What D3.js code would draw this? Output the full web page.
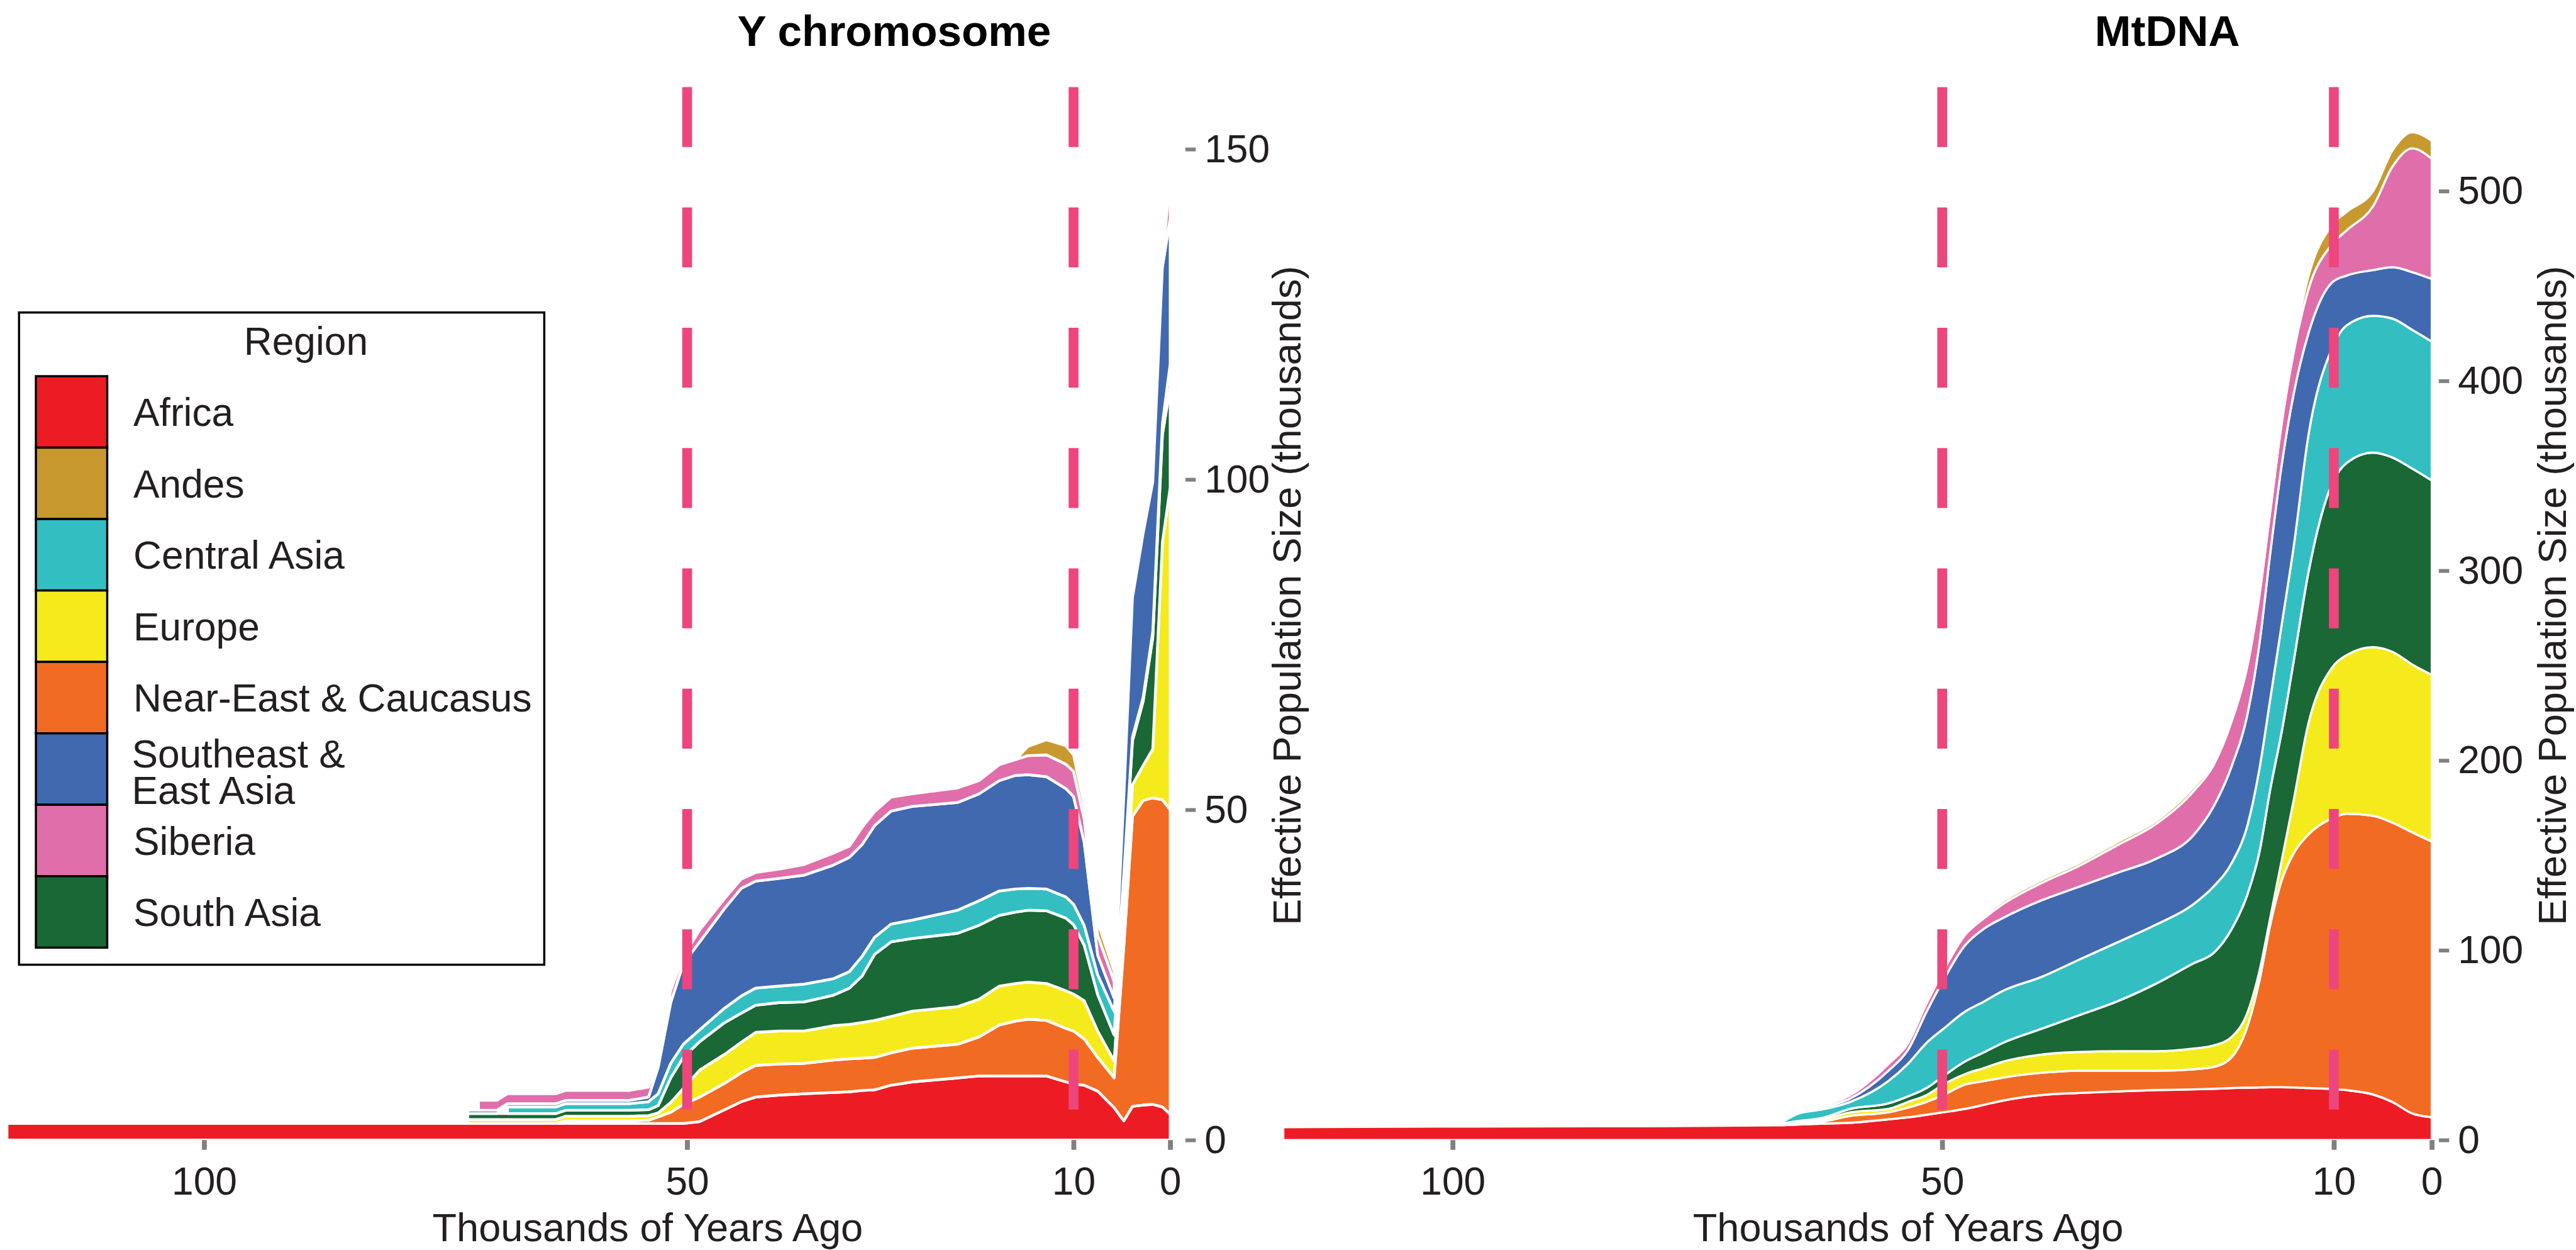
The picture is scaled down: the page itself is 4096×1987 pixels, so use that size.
<!DOCTYPE html>
<html>
<head>
<meta charset="utf-8">
<script src="https://cdn.jsdelivr.net/npm/d3@7"></script>
<style>
  body { margin: 0; background: #fff; }
  svg { display: block; }
</style>
</head>
<body>
<script>
// regions, bottom to top of the stack
var regions = ["Africa", "Near-East & Caucasus", "Europe", "South Asia",
               "Central Asia", "Southeast & East Asia", "Siberia", "Andes"];
var legendOrder = ["Africa", "Andes", "Central Asia", "Europe",
                   "Near-East & Caucasus", "Southeast & East Asia", "Siberia", "South Asia"];
var legendLines = {"Southeast & East Asia": ["Southeast &", "East Asia"]};
var colors = {
  "Africa": "#ED1C24",
  "Andes": "#C8992E",
  "Central Asia": "#33BFC1",
  "Europe": "#F5EB1C",
  "Near-East & Caucasus": "#F26B23",
  "Southeast & East Asia": "#4169B0",
  "Siberia": "#E06EAA",
  "South Asia": "#196836"
};

// Y chromosome, thousands of years ago, effective size (thousands) per region
var yTimes = [120.4, 72.7, 71.6, 69.7, 68.6, 63.6, 62.6, 56, 54, 53, 51.7, 50.4, 48.7, 46.1, 44.4,
  42.9, 40.5, 37.9, 34.9, 33.2, 31.9, 30.6, 28.9, 26.7, 22, 19.8, 17.7, 16, 14.7, 12.8, 10.8, 10,
  8.9, 7.5, 5.8, 4.8, 3.9, 2.8, 1.8, 0.8, 0];
var yAfrica = [2.5, 2.5, 2.5, 2.5, 2.5, 2.5, 2.5, 2.5, 2.5, 2.5, 2.5, 2.5, 2.8, 4.6, 5.8, 6.5, 6.8,
  7.0, 7.2, 7.3, 7.5, 7.6, 8.3, 8.8, 9.4, 9.7, 9.7, 9.7, 9.7, 9.7, 8.8, 8.5, 8.3, 7.4, 4.9, 2.9,
  5.1, 5.3, 5.4, 5.0, 3.9];
var yNearEast = [null, null, null, null, null, null, 0.4, 0.4, 0.5, 1.0, 1.7, 2.9, 3.7, 4.0, 4.4,
  4.8, 4.7, 4.6, 4.9, 5.0, 4.9, 4.9, 4.9, 5.1, 5.1, 5.9, 7.7, 8.3, 8.6, 8.4, 8.1, 8.0, 7.0, 5.1,
  4.5, 26.4, 43.9, 46.1, 46.4, 46.5, 46.1];
var yEurope = [null, 0.6, 0.6, 0.6, 0.6, 0.6, 0.7, 0.7, 0.7, 0.6, 1.5, 2.4, 4.1, 4.4, 4.6, 5.0,
  5.0, 4.9, 5.2, 5.2, 5.4, 5.6, 5.5, 5.6, 5.7, 5.7, 5.9, 5.7, 5.6, 5.6, 5.7, 5.6, 5.8, 4.0, 2.6,
  4.0, 4.8, 5.3, 7.4, 39.0, 48.8];
var ySouthAsia = [null, 0.9, 0.9, 0.9, 0.9, 0.9, 0.9, 0.9, 0.9, 1.1, 3.7, 4.7, 4.3, 4.8, 4.4, 4.1,
  4.3, 4.4, 4.6, 5.5, 7.0, 10.0, 11.3, 11.0, 11.1, 11.2, 10.7, 10.8, 10.9, 11.0, 11.0, 10.5, 8.4,
  5.5, 3.9, 6.0, 6.6, 9.7, 16.9, 16.3, 15.2];
var yCentralAsia = [null, null, null, null, 1.0, 1.0, 1.0, 1.0, 1.2, 1.8, 2.2, 2.0, 1.8, 2.2, 2.6,
  2.6, 2.5, 2.7, 2.5, 2.5, 3.0, 2.6, 2.7, 2.8, 3.5, 3.7, 3.7, 3.5, 3.3, 3.3, 3.2, 3.1, 3.0, 3.0,
  3.6, 1.0, 0.6, 0.6, 0.9, 1.7, 3.5];
var ySEAsia = [null, 0.5, 0.5, 0.5, 0.5, 0.5, 0.5, 0.5, 0.7, 4.0, 9.2, 12.2, 13.3, 15.1, 16.3,
  16.2, 16.3, 16.5, 17.2, 17.3, 16.9, 16.9, 17.1, 17.2, 16.3, 16.2, 16.7, 17.2, 17.2, 17.0, 16.4,
  16.3, 12.6, 3.0, 2.0, 11.5, 21.1, 24.8, 22.6, 23.7, 22.0];
var ySiberia = [null, null, 1.5, 1.5, 1.5, 1.5, 1.5, 1.5, 1.5, 1.0, 1.8, 1.1, 1.8, 1.5, 1.4, 1.3,
  1.4, 1.6, 1.8, 1.7, 2.6, 2.1, 2.1, 1.9, 2.2, 2.0, 2.4, 2.4, 2.9, 3.3, 3.7, 3.8, 3.5, 3.0, 2.5,
  null, null, null, null, 0, 6.9];
var yAndes = [null, null, null, null, null, null, null, null, null, null, null, null, null, null,
  null, null, null, null, null, null, null, null, null, null, null, null, null, 0, 1.4, 2.3, 2.8,
  2.5, 2.0, 2.0, 1.5, null, null, null, null, null, null];

// MtDNA
var mtTimes = [117.3, 100, 80, 66.4, 64.7, 62.4, 59.4, 55.5, 53.5, 51.6, 49.9, 47.7, 45.7, 43.8,
  39.9, 36.0, 32.1, 28.2, 24.3, 22.3, 20.4, 18.8, 17.6, 16.5, 15.3, 14.1, 12.6, 10.2, 8.7, 6.0,
  4.0, 2.0, 0];
var mtAfrica = [6.8, 7.1, 7.3, 7.8, 8.2, 8.6, 9.1, 10.9, 12.0, 13.3, 14.6, 16.4, 18.6, 20.8, 23.7,
  24.8, 25.6, 26.3, 26.7, 27.0, 27.4, 27.6, 27.7, 27.8, 27.8, 27.7, 27.4, 26.9, 26.3, 24.0, 20.0,
  14.0, 12.0];
var mtNearEast = [null, null, null, 0.3, 0.8, 1.0, 3.6, 3.7, 5.1, 6.8, 9.1, 12.8, 12.5, 12.1,
  11.7, 11.7, 10.9, 10.2, 10.6, 11.5, 16.5, 32.7, 56.4, 85.6, 109.4, 123.4, 133.6, 142.6, 145.6,
  146.8, 147.2, 148.1, 145.3];
var mtEurope = [null, null, null, 0.3, 0.5, 1.0, 1.9, 1.8, 3.0, 3.6, 5.5, 5.5, 6.9, 8.4, 9.6, 9.9,
  10.3, 10.3, 10.9, 11.3, 10.6, 7.2, 4.9, 3.6, 10.9, 28.1, 58.5, 79.3, 83.6, 88.9, 90.0, 88.5, 87.8];
var mtSouthAsia = [null, null, null, 0.3, 0.5, 0.9, 1.8, 2.9, 2.9, 3.7, 4.4, 6.6, 8.3, 9.9, 13.5,
  19.4, 26.3, 35.5, 45.0, 48.7, 57.0, 62.3, 62.8, 67.7, 67.8, 73.2, 79.5, 96.9, 101.2, 102.5,
  102.4, 103.2, 102.4];
var mtCentralAsia = [null, null, null, 0.5, 3.9, 4.5, 3.7, 11.8, 17.2, 23.8, 24.9, 26.3, 26.8,
  27.4, 27.4, 29.3, 31.1, 31.1, 31.2, 35.0, 34.8, 36.6, 43.9, 47.6, 56.6, 60.4, 72.3, 71.4, 72.5,
  72.1, 73.2, 73.1, 73.2];
var mtSEAsia = [null, null, null, null, null, 1.0, 1.8, 5.4, 7.3, 16.4, 25.6, 34.8, 38.4, 38.4,
  40.3, 38.4, 36.6, 34.7, 36.5, 42.1, 51.2, 58.6, 65.9, 76.8, 84.2, 80.5, 53.7, 34.7, 26.3, 24.1,
  27.1, 30.4, 33.0];
var mtSiberia = [null, null, null, null, null, 1.0, 1.8, 3.5, 3.5, 4.4, 4.9, 5.5, 5.5, 7.3, 9.1,
  11.0, 14.6, 18.3, 23.1, 21.9, 23.8, 25.6, 25.6, 22.0, 21.9, 21.9, 23.2, 20.1, 23.8, 33.6, 53.1,
  65.2, 63.3];
var mtAndes = [null, null, null, null, null, 0.3, 0.8, 1.0, 1.0, 1.0, 1.3, 1.6, 1.5, 1.5, 1.5,
  1.5, 1.6, 1.6, 2.0, 2.0, 2.2, 2.4, 2.8, 2.9, 2.9, 3.3, 6.8, 10.1, 9.7, 8.0, 8.5, 8.5, 9.5];

var xTicks = [100, 50, 10, 0];
var yTicksY = [0, 50, 100, 150];
var yTicksMt = [0, 100, 200, 300, 400, 500];
var boundaries = [50, 10];

// drawing is laid out in the reference's own pixel grid; the viewBox shrinks it
var W = 4733, H = 2296;
var font = "'Liberation Sans', Arial, Helvetica, sans-serif";
var ink = "#231f20";
var panelTop = 160, panelBottom = 2123;

var svg = d3.select("body").append("svg")
  .attr("width", 4096)
  .attr("height", 1987)
  .attr("viewBox", "0 0 " + W + " " + H);

function makeRows(times, series) {
  return times.map(function(t, i) {
    var row = {t: t};
    regions.forEach(function(r) { row[r] = series[r][i]; });
    return row;
  });
}

var stack = d3.stack()
  .keys(regions)
  .value(function(d, k) { return d[k] == null ? 0 : d[k]; });

var drawPanel = function(cfg) {
  var g = svg.append("g");
  var x = cfg.x, y = cfg.y;

  // stacked areas with white outlines
  stack(cfg.rows).forEach(function(layer) {
    var key = layer.key;
    var area = d3.area()
      .defined(function(d) { return d.data[key] != null; })
      .x(function(d) { return x(d.data.t); })
      .y0(function(d) { return y(d[0]); })
      .y1(function(d) { return y(d[1]); })
      .curve(cfg.curve);
    g.append("path")
      .datum(layer)
      .attr("d", area)
      .attr("fill", colors[key])
      .attr("stroke", "#fff")
      .attr("stroke-width", cfg.strokeWidth)
      .attr("stroke-linejoin", "round");
  });

  // x axis
  var xAxis = g.append("g")
    .attr("transform", "translate(0," + y(0) + ")")
    .call(d3.axisBottom(x).tickValues(xTicks).tickSize(18).tickPadding(31).tickFormat(d3.format("d")));
  // y axis on the right
  var yAxis = g.append("g")
    .attr("transform", "translate(" + cfg.yAxisX + ",0)")
    .call(d3.axisRight(y).tickValues(cfg.yTicks).tickSize(19).tickPadding(16).tickFormat(d3.format("d")));

  [xAxis, yAxis].forEach(function(ax) {
    ax.attr("font-family", font).attr("font-size", 72);
    ax.select(".domain").remove();
    ax.selectAll(".tick text").attr("fill", ink);
  });
  xAxis.selectAll(".tick line").attr("stroke", "#808080").attr("stroke-width", 9);
  yAxis.selectAll(".tick line").attr("stroke", "#808080").attr("stroke-width", 7);

  // dashed period boundaries
  boundaries.forEach(function(b) {
    g.append("line")
      .attr("x1", x(b)).attr("x2", x(b))
      .attr("y1", panelTop).attr("y2", panelBottom)
      .attr("stroke", "#EE457D")
      .attr("stroke-width", 18)
      .attr("stroke-dasharray", "110,111");
  });

  g.append("text")
    .attr("x", cfg.titleX).attr("y", 84)
    .attr("text-anchor", "middle")
    .attr("font-family", font).attr("font-size", 80).attr("font-weight", "bold")
    .attr("fill", "#000")
    .text(cfg.title);

  g.append("text")
    .attr("x", cfg.xTitleX).attr("y", 2280)
    .attr("text-anchor", "middle")
    .attr("font-family", font).attr("font-size", 73)
    .attr("fill", ink)
    .text("Thousands of Years Ago");

  g.append("text")
    .attr("transform", "translate(" + cfg.yTitleX + ",1094) rotate(-90)")
    .attr("text-anchor", "middle")
    .attr("font-family", font).attr("font-size", 73)
    .attr("fill", ink)
    .text("Effective Population Size (thousands)");
};

drawPanel({
  rows: makeRows(yTimes, {
    "Africa": yAfrica, "Near-East & Caucasus": yNearEast, "Europe": yEurope,
    "South Asia": ySouthAsia, "Central Asia": yCentralAsia,
    "Southeast & East Asia": ySEAsia, "Siberia": ySiberia, "Andes": yAndes
  }),
  x: d3.scaleLinear().domain([100, 0]).range([375, 2150]),
  y: d3.scaleLinear().domain([0, 150]).range([2094, 274]),
  yTicks: yTicksY,
  yAxisX: 2178,
  curve: d3.curveLinear,
  strokeWidth: 5,
  title: "Y chromosome",
  titleX: 1643,
  xTitleX: 1190,
  yTitleX: 2390
});

drawPanel({
  rows: makeRows(mtTimes, {
    "Africa": mtAfrica, "Near-East & Caucasus": mtNearEast, "Europe": mtEurope,
    "South Asia": mtSouthAsia, "Central Asia": mtCentralAsia,
    "Southeast & East Asia": mtSEAsia, "Siberia": mtSiberia, "Andes": mtAndes
  }),
  x: d3.scaleLinear().domain([100, 0]).range([2669, 4468]),
  y: d3.scaleLinear().domain([0, 500]).range([2094, 351]),
  yTicks: yTicksMt,
  yAxisX: 4481,
  curve: d3.curveMonotoneX,
  strokeWidth: 4,
  title: "MtDNA",
  titleX: 3982,
  xTitleX: 3506,
  yTitleX: 4714
});

// legend
var legend = svg.append("g");
legend.append("rect")
  .attr("x", 35).attr("y", 574)
  .attr("width", 965).attr("height", 1198)
  .attr("fill", "#fff").attr("stroke", "#000").attr("stroke-width", 4);
legend.append("text")
  .attr("x", 562).attr("y", 652)
  .attr("text-anchor", "middle")
  .attr("font-family", font).attr("font-size", 72).attr("fill", ink)
  .text("Region");

var keySize = 131.2;
legendOrder.forEach(function(name, i) {
  var top = 691 + i * keySize;
  var mid = top + keySize / 2;
  legend.append("rect")
    .attr("x", 66).attr("y", top)
    .attr("width", 131).attr("height", keySize)
    .attr("fill", colors[name]).attr("stroke", "#000").attr("stroke-width", 4);
  var lines = legendLines[name] || [name];
  var label = legend.append("text")
    .attr("font-family", font).attr("font-size", 72).attr("fill", ink);
  if (lines.length === 1) {
    label.append("tspan").attr("x", 245).attr("y", mid + 26).text(lines[0]);
  } else {
    label.append("tspan").attr("x", 242).attr("y", mid - 3).text(lines[0]);
    label.append("tspan").attr("x", 242).attr("y", mid + 64).text(lines[1]);
  }
});
</script>
</body>
</html>
